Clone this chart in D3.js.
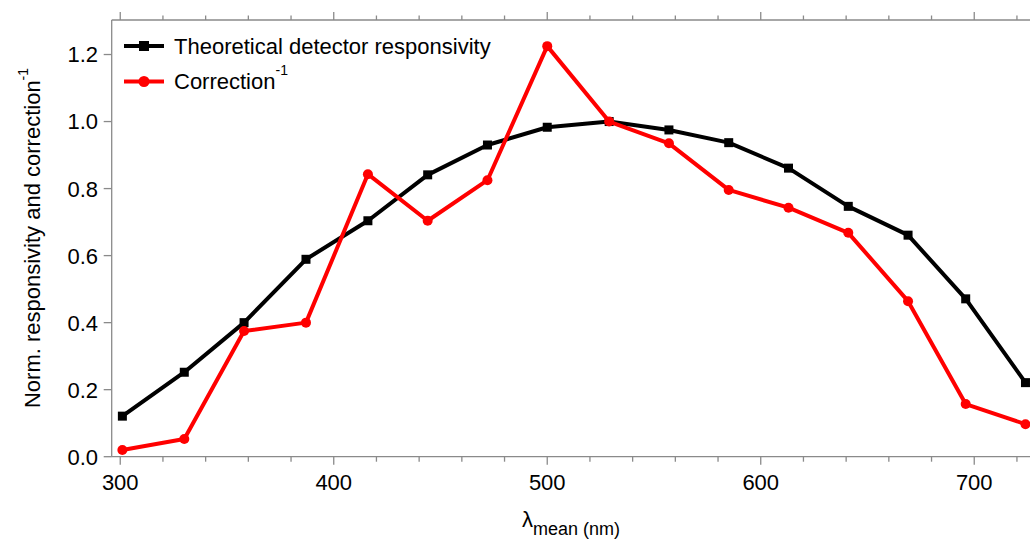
<!DOCTYPE html>
<html>
<head>
<meta charset="utf-8">
<script src="https://cdn.jsdelivr.net/npm/d3@7"></script>
<style>
  body { margin: 0; background: #fff; }
  svg text { font-family: "Liberation Sans", Arial, sans-serif; fill: #000; }
</style>
</head>
<body>
<svg id="chart" width="1030" height="540"></svg>
<script>
// wavelengths (nm)
const wavelengths = [301, 330, 358, 387, 416, 444, 472, 500, 529, 557, 585, 613, 641, 669, 696, 724];
// theoretical detector responsivity (normalised)
const responsivity = [0.121, 0.252, 0.400, 0.589, 0.704, 0.841, 0.930, 0.983, 1.000, 0.975, 0.937, 0.861, 0.747, 0.661, 0.471, 0.221];
// inverse correction (normalised)
const correctionInv = [0.020, 0.053, 0.375, 0.400, 0.843, 0.704, 0.825, 1.225, 1.000, 0.935, 0.796, 0.743, 0.668, 0.464, 0.157, 0.097];

const xMajorTicks = [300, 400, 500, 600, 700];
const xMinorTicks = d3.range(300, 721, 20);
const yTicks = [0, 0.2, 0.4, 0.6, 0.8, 1.0, 1.2];

const svg = d3.select('#chart');
const plotLeft = 111.7, plotTop = 20, plotBottom = 456.7;
const axisColor = '#8a8a8a';

const xScale = d3.scaleLinear()
  .domain([296, 730])
  .range([plotLeft, plotLeft + 434 * 2.135]);

const yScale = d3.scaleLinear()
  .domain([0, 1.303])
  .range([plotBottom, plotTop]);

// frame: left, bottom, top
const axes = svg.append('g').attr('stroke', axisColor).attr('stroke-width', 1.3);
axes.append('line').attr('x1', plotLeft).attr('x2', plotLeft).attr('y1', plotTop).attr('y2', plotBottom);
axes.append('line').attr('x1', plotLeft).attr('x2', xScale(730)).attr('y1', plotBottom).attr('y2', plotBottom);
axes.append('line').attr('x1', plotLeft).attr('x2', xScale(730)).attr('y1', plotTop).attr('y2', plotTop);

// x ticks bottom (down) and top (up)
xMinorTicks.forEach(v => {
  const major = xMajorTicks.includes(v);
  axes.append('line')
    .attr('x1', xScale(v)).attr('x2', xScale(v))
    .attr('y1', plotBottom).attr('y2', plotBottom + (major ? 8 : 5));
  axes.append('line')
    .attr('x1', xScale(v)).attr('x2', xScale(v))
    .attr('y1', plotTop).attr('y2', plotTop - (major ? 8 : 4.5));
});

// y ticks
yTicks.forEach(v => {
  axes.append('line')
    .attr('x1', plotLeft - 8).attr('x2', plotLeft)
    .attr('y1', yScale(v)).attr('y2', yScale(v));
});

svg.append('g').selectAll('text')
  .data(xMajorTicks)
  .enter().append('text')
  .attr('x', d => xScale(d))
  .attr('y', 490)
  .attr('text-anchor', 'middle')
  .attr('font-size', 22)
  .text(d => d);

svg.append('g').selectAll('text')
  .data(yTicks)
  .enter().append('text')
  .attr('x', 98)
  .attr('y', d => yScale(d))
  .attr('dy', '0.36em')
  .attr('text-anchor', 'end')
  .attr('font-size', 22)
  .text(d => d3.format('.1f')(d));

// axis titles
const xTitle = svg.append('text')
  .attr('x', 522)
  .attr('y', 527)
  .attr('font-size', 22);
xTitle.append('tspan').text('λ');
xTitle.append('tspan').attr('font-size', 18).attr('dy', 8).text('mean (nm)');

const yTitle = svg.append('text')
  .attr('transform', 'translate(40,238) rotate(-90)')
  .attr('text-anchor', 'middle')
  .attr('font-size', 22);
yTitle.append('tspan').text('Norm. responsivity and correction');
yTitle.append('tspan').attr('font-size', 14).attr('dy', -12).text('-1');

// series
const line = d3.line()
  .x(d => xScale(d[0]))
  .y(d => yScale(d[1]));

const blackData = wavelengths.map((w, i) => [w, responsivity[i]]);
const redData = wavelengths.map((w, i) => [w, correctionInv[i]]);

svg.append('path')
  .datum(blackData)
  .attr('fill', 'none')
  .attr('stroke', '#000')
  .attr('stroke-width', 4)
  .attr('stroke-linejoin', 'round')
  .attr('d', line);

svg.append('g').selectAll('rect')
  .data(blackData)
  .enter().append('rect')
  .attr('x', d => xScale(d[0]) - 4.5)
  .attr('y', d => yScale(d[1]) - 4.5)
  .attr('width', 9)
  .attr('height', 9)
  .attr('fill', '#000');

svg.append('path')
  .datum(redData)
  .attr('fill', 'none')
  .attr('stroke', '#ff0000')
  .attr('stroke-width', 4)
  .attr('stroke-linejoin', 'round')
  .attr('d', line);

svg.append('g').selectAll('circle')
  .data(redData)
  .enter().append('circle')
  .attr('cx', d => xScale(d[0]))
  .attr('cy', d => yScale(d[1]))
  .attr('r', 5)
  .attr('fill', '#ff0000');

// legend
const legend = svg.append('g');
legend.append('line').attr('x1', 124).attr('x2', 164).attr('y1', 46).attr('y2', 46)
  .attr('stroke', '#000').attr('stroke-width', 4);
legend.append('rect').attr('x', 139).attr('y', 41).attr('width', 10).attr('height', 10).attr('fill', '#000');
legend.append('text').attr('x', 174).attr('y', 53.5).attr('font-size', 22)
  .text('Theoretical detector responsivity');

legend.append('line').attr('x1', 124).attr('x2', 164).attr('y1', 81.5).attr('y2', 81.5)
  .attr('stroke', '#ff0000').attr('stroke-width', 4);
legend.append('circle').attr('cx', 144).attr('cy', 81.5).attr('r', 5.5).attr('fill', '#ff0000');
const corr = legend.append('text').attr('x', 174).attr('y', 88.5).attr('font-size', 22);
corr.append('tspan').text('Correction');
corr.append('tspan').attr('font-size', 14).attr('dy', -14).text('-1');
</script>
</body>
</html>
